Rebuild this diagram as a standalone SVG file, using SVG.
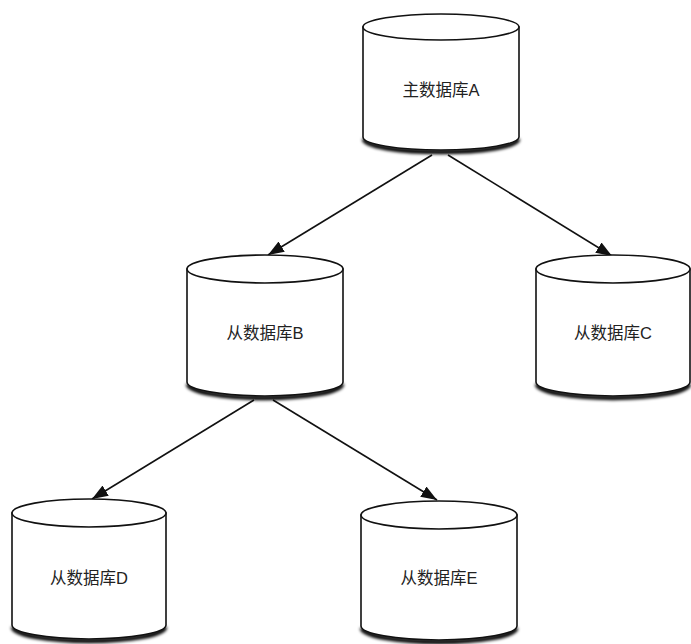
<svg xmlns="http://www.w3.org/2000/svg" width="691" height="644" viewBox="0 0 691 644">
<defs>
<filter id="blur" x="-10%" y="-50%" width="120%" height="200%"><feGaussianBlur stdDeviation="1.4"/></filter>
<marker id="arr" viewBox="0 0 16 12" refX="16" refY="6" markerWidth="16" markerHeight="12" markerUnits="userSpaceOnUse" orient="auto"><path d="M0,0 L16,6 L0,12 Z" fill="#111"/></marker>
</defs>
<style>
.body{fill:#fff;stroke:#111;stroke-width:1.6}
.top{fill:#fff;stroke:#111;stroke-width:1.6}
.shadow{fill:none;stroke:#000;stroke-width:4.5;filter:url(#blur)}
.lbl{font-family:"Liberation Sans","Noto Sans CJK SC",sans-serif;font-size:16.5px;fill:#222;text-anchor:middle}
.edge{stroke:#111;stroke-width:1.6;fill:none;marker-end:url(#arr)}
</style>
<rect width="691" height="644" fill="#fff"/>
<g id="edges">
<line class="edge" x1="432" y1="155" x2="268" y2="255"/>
<line class="edge" x1="448" y1="155" x2="612" y2="256"/>
<line class="edge" x1="254" y1="400" x2="92" y2="499"/>
<line class="edge" x1="273" y1="400" x2="437" y2="500"/>
</g>
<g id="nodeA">
<path class="shadow" d="M364,139 A77,13 0 0 0 518,139"/>
<path class="body" d="M363,27 L363,137 A78,13 0 0 0 519,137 L519,27 Z"/>
<ellipse class="top" cx="441" cy="27" rx="78" ry="13"/>
<text class="lbl" x="441" y="96">主数据库A</text>
</g>
<g id="nodeB">
<path class="shadow" d="M188,384 A77,14 0 0 0 342,384"/>
<path class="body" d="M187,269 L187,382 A78,14 0 0 0 343,382 L343,269 Z"/>
<ellipse class="top" cx="265" cy="269" rx="78" ry="14"/>
<text class="lbl" x="265" y="339">从数据库B</text>
</g>
<g id="nodeC">
<path class="shadow" d="M537,384 A76,14 0 0 0 689,384"/>
<path class="body" d="M536,269 L536,382 A77,14 0 0 0 690,382 L690,269 Z"/>
<ellipse class="top" cx="613" cy="269" rx="77" ry="14"/>
<text class="lbl" x="613" y="339">从数据库C</text>
</g>
<g id="nodeD">
<path class="shadow" d="M13,627 A76,14 0 0 0 165,627"/>
<path class="body" d="M12,513 L12,625 A77,14 0 0 0 166,625 L166,513 Z"/>
<ellipse class="top" cx="89" cy="513" rx="77" ry="14"/>
<text class="lbl" x="89" y="584">从数据库D</text>
</g>
<g id="nodeE">
<path class="shadow" d="M362,628 A77,14 0 0 0 516,628"/>
<path class="body" d="M361,515 L361,626 A78,14 0 0 0 517,626 L517,515 Z"/>
<ellipse class="top" cx="439" cy="515" rx="78" ry="14"/>
<text class="lbl" x="439" y="584">从数据库E</text>
</g>
</svg>
